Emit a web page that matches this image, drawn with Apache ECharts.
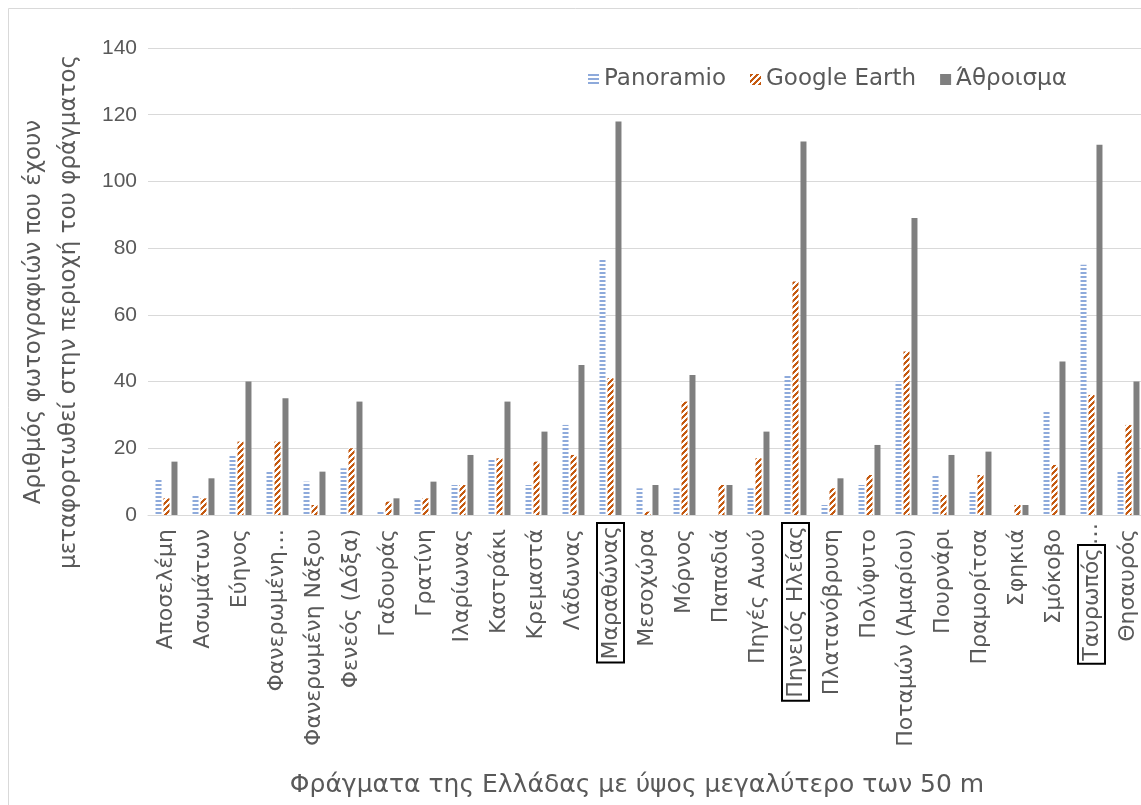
<!DOCTYPE html>
<html><head><meta charset="utf-8">
<script src="https://cdn.jsdelivr.net/npm/echarts@6/dist/echarts.min.js"></script>
<style>html,body{margin:0;padding:0;background:#fff}#c{width:1141px;height:805px}</style>
</head><body><div id="c"></div>
<script>
const categories = ['Αποσελέμη','Ασωμάτων','Εύηνος','Φανερωμένη…','Φανερωμένη Νάξου','Φενεός (Δόξα)','Γαδουράς','Γρατίνη','Ιλαρίωνας','Καστράκι','Κρεμαστά','Λάδωνας','Μαραθώνας','Μεσοχώρα','Μόρνος','Παπαδιά','Πηγές Αωού','Πηνειός Ηλείας','Πλατανόβρυση','Πολύφυτο','Ποταμών (Αμαρίου)','Πουρνάρι','Πραμορίτσα','Σφηκιά','Σμόκοβο','Ταυρωπός…','Θησαυρός'];
const panoramio   = [11, 6, 18, 13, 10, 14, 1, 5, 9, 17, 9, 27, 77, 8, 8, 0, 8, 42, 3, 9, 40, 12, 7, 0, 31, 75, 13];
const googleEarth = [5, 5, 22, 22, 3, 20, 4, 5, 9, 17, 16, 18, 41, 1, 34, 9, 17, 70, 8, 12, 49, 6, 12, 3, 15, 36, 27];
const total       = [16, 11, 40, 35, 13, 34, 5, 10, 18, 34, 25, 45, 118, 9, 42, 9, 25, 112, 11, 21, 89, 18, 19, 3, 46, 111, 40];
const boxedCategories = ['Μαραθώνας','Πηνειός Ηλείας','Ταυρωπός…'];
const seriesNames = ['Panoramio','Google Earth','Άθροισμα'];
const yAxisTitle = 'Αριθμός φωτογραφιών που έχουν\nμεταφορτωθεί στην περιοχή του φράγματος';
const xAxisTitle = 'Φράγματα της Ελλάδας με ύψος μεγαλύτερο των 50 m';

function stripePattern() {
  const c = document.createElement('canvas'); c.width = 4; c.height = 4;
  const g = c.getContext('2d');
  g.fillStyle = '#ffffff'; g.fillRect(0, 0, 4, 4);
  g.fillStyle = '#8eaadb'; g.fillRect(0, 0, 4, 2);
  return c;
}
function diagPattern() {
  const n = 6;
  const c = document.createElement('canvas'); c.width = n; c.height = n;
  const g = c.getContext('2d');
  g.fillStyle = '#ffffff'; g.fillRect(0, 0, n, n);
  g.fillStyle = '#c55a11';
  for (let x = 0; x < n; x++) for (let y = 0; y < n; y++) if ((x + y) % n < 3) g.fillRect(x, y, 1, 1);
  return c;
}

const FONT = 'DejaVu Sans';
const TXT = '#595959';
const LBL = 22;
const chart = echarts.init(document.getElementById('c'), null, {renderer: 'canvas'});
chart.setOption({
  animation: false,
  backgroundColor: '#ffffff',
  graphic: [
    {type: 'rect', shape: {x: 8.5, y: 8.5, width: 1300, height: 1000}, style: {fill: 'none', stroke: '#d9d9d9', lineWidth: 1}, silent: true, z: -10},
    {type: 'text', x: 52, y: 312, rotation: Math.PI / 2, style: {text: yAxisTitle, font: '23px "DejaVu Sans"', fill: TXT, textAlign: 'center', textVerticalAlign: 'middle', lineHeight: 35}},
    {type: 'text', x: 637, y: 785, style: {text: xAxisTitle, font: '25px "DejaVu Sans"', fill: TXT, textAlign: 'center', textVerticalAlign: 'middle'}}
  ],
  legend: {
    left: 588, top: 68, padding: 0, itemGap: 24, itemWidth: 11, itemHeight: 11, icon: 'rect',
    textStyle: {fontFamily: FONT, fontSize: 23, color: TXT},
    data: seriesNames
  },
  grid: {left: 148, top: 48, width: 999, height: 467, containLabel: false, outerBoundsMode: 'none'},
  xAxis: {
    type: 'category', data: categories,
    axisLine: {lineStyle: {color: '#d9d9d9', width: 1}},
    axisTick: {show: false},
    axisLabel: {
      rotate: 90, interval: 0, margin: 8,
      fontFamily: FONT, fontSize: LBL, color: TXT,
      formatter: function (v) {
        if (boxedCategories.indexOf(v) >= 0) {
          if (v.endsWith('…')) return '{b|' + v.slice(0, -1) + '}{e|…}';
          return '{b|' + v + '}';
        }
        return '{n|' + v + '}';
      },
      rich: {
        n: {fontFamily: FONT, fontSize: LBL, color: TXT, padding: [0, 6, 0, 0]},
        b: {fontFamily: FONT, fontSize: LBL, color: TXT, borderColor: '#000000', borderWidth: 2, padding: [3, 3, 2, 3]},
        e: {fontFamily: FONT, fontSize: LBL, color: TXT}
      }
    }
  },
  yAxis: {
    type: 'value', min: 0, max: 140, interval: 20,
    axisLine: {show: false}, axisTick: {show: false},
    axisLabel: {fontFamily: 'Liberation Sans', fontSize: 21, color: TXT, margin: 11},
    splitLine: {lineStyle: {color: '#d9d9d9', width: 1}}
  },
  series: [
    {name: seriesNames[0], type: 'bar', data: panoramio, barWidth: 6, barGap: '33%', itemStyle: {color: {image: stripePattern(), repeat: 'repeat'}}},
    {name: seriesNames[1], type: 'bar', data: googleEarth, barWidth: 6, barGap: '33%', itemStyle: {color: {image: diagPattern(), repeat: 'repeat'}}},
    {name: seriesNames[2], type: 'bar', data: total, barWidth: 6, barGap: '33%', itemStyle: {color: '#7f7f7f'}}
  ]
});
</script>
</body></html>
